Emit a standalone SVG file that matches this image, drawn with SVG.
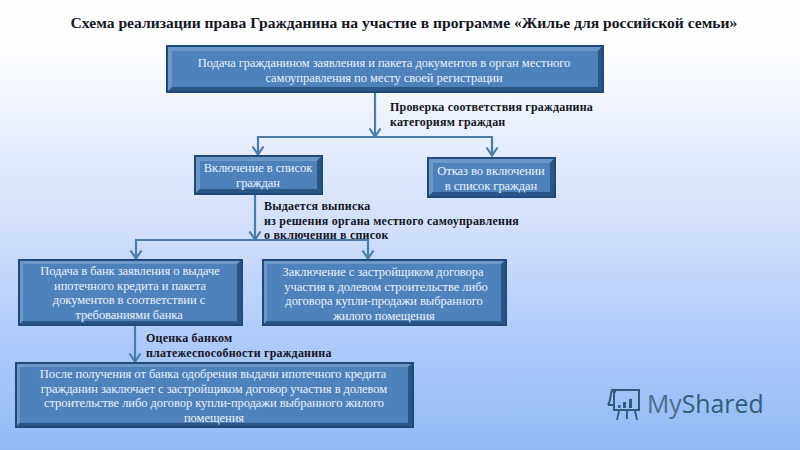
<svg xmlns="http://www.w3.org/2000/svg" width="800" height="450" viewBox="0 0 800 450">
<style>
.b{fill:#4f81bd}
.o{fill:#1f497d}
.tl{fill:#6d97c9}
.br{fill:#2c5587}
.w{font:12.5px "Liberation Serif",serif;fill:#eaf1fb;text-anchor:middle;letter-spacing:-.05px}
.k{font:bold 12px "Liberation Serif",serif;fill:#14161e;letter-spacing:.2px}
.c{fill:none;stroke:#4a7cac;stroke-width:2.2}
.t{font:bold 15.6px "Liberation Serif",serif;fill:#14161e;text-anchor:middle}
</style>
<defs>
<linearGradient id="bg" x1="0" y1="0" x2="0" y2="1">
<stop offset="0" stop-color="#ffffff"/><stop offset=".12" stop-color="#fcfdff"/><stop offset=".5" stop-color="#d2e0fb"/><stop offset=".75" stop-color="#afcbfa"/><stop offset="1" stop-color="#92b9f6"/>
</linearGradient>
<marker id="ah" markerUnits="userSpaceOnUse" markerWidth="14" markerHeight="14" refX="11" refY="7" orient="auto-start-reverse" viewBox="0 0 14 14">
<path d="M2.5 1.5L10.5 7L2.5 12.5" fill="none" stroke="#4a7cac" stroke-width="2.2"/>
</marker>
</defs>
<rect width="800" height="450" fill="url(#bg)"/>
<text class="t" x="404" y="28">Схема реализации права Гражданина на участие в программе «Жилье для российской семьи»</text>
<g id="connectors">
<path class="c" d="M375 93V137" marker-end="url(#ah)"/>
<path class="c" d="M258 155V137H492V156" marker-start="url(#ah)" marker-end="url(#ah)"/>
<path class="c" d="M255 195V240" marker-end="url(#ah)"/>
<path class="c" d="M136 259V240H368V259" marker-start="url(#ah)" marker-end="url(#ah)"/>
<path class="c" d="M135 326V362" marker-end="url(#ah)"/>
</g>
<g id="n1"><rect class="o" x="166" y="45" width="438" height="48"/><path class="tl" d="M168 47H602L598 51H172V89L168 91Z"/><path class="br" d="M602 47V91H168L172 87H598V51Z"/><rect class="b" x="172" y="51" width="426" height="36"/>
<text class="w" x="384" y="67">Подача гражданином заявления и пакета документов в орган местного</text><text class="w" x="384" y="82">самоуправления по месту своей регистрации</text></g>
<g id="n2"><rect class="o" x="194" y="155" width="129" height="40"/><path class="tl" d="M196 157H321L317 161H200V189L196 193Z"/><path class="br" d="M321 157V193H196L200 189H317V161Z"/><rect class="b" x="200" y="161" width="117" height="28"/>
<text class="w" x="258" y="172">Включение в список</text><text class="w" x="258" y="187">граждан</text></g>
<g id="n3"><rect class="o" x="427" y="157" width="129" height="41"/><path class="tl" d="M429 159H554L550 163H433V192L429 196Z"/><path class="br" d="M554 159V196H429L433 192H550V163Z"/><rect class="b" x="433" y="163" width="117" height="29"/>
<text class="w" x="491" y="175">Отказ во включении</text><text class="w" x="491" y="190">в список граждан</text></g>
<g id="n4"><rect class="o" x="18" y="259" width="225" height="67"/><path class="tl" d="M20 261H241L237 264H23V321L20 324Z"/><path class="br" d="M241 261V324H20L23 321H237V264Z"/><rect class="b" x="23" y="264" width="214" height="57"/>
<text class="w" x="130" y="275">Подача в банк заявления о выдаче</text><text class="w" x="130" y="290">ипотечного кредита и пакета</text><text class="w" x="129" y="304">документов в соответствии с</text><text class="w" x="129" y="319">требованиями банка</text></g>
<g id="n5"><rect class="o" x="262" y="259" width="245" height="67"/><path class="tl" d="M264 261H505L501 264H267V321L264 324Z"/><path class="br" d="M505 261V324H264L267 321H501V264Z"/><rect class="b" x="267" y="264" width="234" height="57"/>
<text class="w" x="383" y="276">Заключение с застройщиком договора</text><text class="w" x="386" y="291">участия в долевом строительстве либо</text><text class="w" x="384" y="305">договора купли-продажи выбранного</text><text class="w" x="384" y="320">жилого помещения</text></g>
<g id="n6"><rect class="o" x="15" y="362" width="399" height="66"/><path class="tl" d="M17 364H412L408 367H20V423L17 426Z"/><path class="br" d="M412 364V426H17L20 423H408V367Z"/><rect class="b" x="20" y="367" width="388" height="56"/>
<text class="w" x="213" y="378">После получения от банка одобрения выдачи ипотечного кредита</text><text class="w" x="214" y="393">гражданин заключает с застройщиком договор участия в долевом</text><text class="w" x="214" y="407">строительстве либо договор купли-продажи выбранного жилого</text><text class="w" x="214" y="422">помещения</text></g>
<g id="labels">
<text class="k" x="390" y="111">Проверка соответствия гражданина</text>
<text class="k" x="390" y="126">категориям граждан</text>
<text class="k" x="264" y="210">Выдается выписка</text>
<text class="k" x="264" y="225">из решения органа местного самоуправления</text>
<text class="k" x="264" y="239">о включении в список</text>
<text class="k" x="146" y="342">Оценка банком</text>
<text class="k" x="146" y="357">платежеспособности гражданина</text>
</g>
<g id="logo">
<g fill="none" stroke="#2f5a78" stroke-width="2">
<path d="M612 390H640M614 392V410H639V390M608 405C611 401 610 395 612 390L616 392M608 405H614"/>
<path d="M619 411L617 420M627 411V419M635 411L637 420" stroke-width="1.8"/>
</g>
<rect x="618" y="405" width="2.5" height="3" fill="#2f5a78"/><rect x="623" y="402" width="3" height="6" fill="#2f5a78"/><rect x="629" y="399" width="3" height="9" fill="#2f5a78"/>
<text x="647" y="413" font-family="'Open Sans','Noto Sans',sans-serif" font-size="24.8" fill="#2f5f78"><tspan fill="#4a6c8a">My</tspan>Shared</text>
</g>
</svg>
